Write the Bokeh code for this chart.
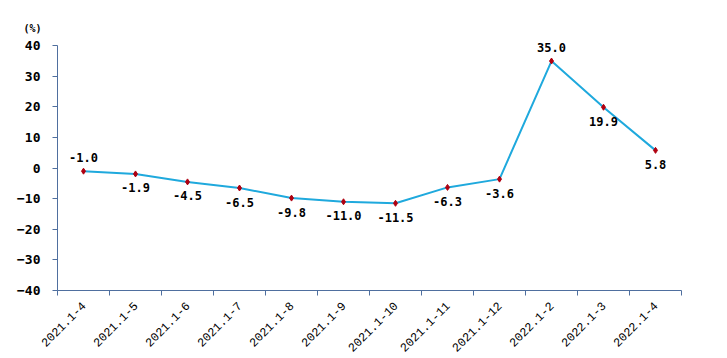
from bokeh.plotting import figure
from bokeh.models import FixedTicker, Range1d, LabelSet, ColumnDataSource
from bokeh.core.properties import value
from bokeh.embed import file_html
from bokeh.resources import INLINE

categories = ["2021.1-4", "2021.1-5", "2021.1-6", "2021.1-7", "2021.1-8", "2021.1-9",
              "2021.1-10", "2021.1-11", "2021.1-12", "2022.1-2", "2022.1-3", "2022.1-4"]
values = [-1.0, -1.9, -4.5, -6.5, -9.8, -11.0, -11.5, -6.3, -3.6, 35.0, 19.9, 5.8]
label_above = [True, False, False, False, False, False, False, False, False, True, False, False]
y_ticks = [-40, -30, -20, -10, 0, 10, 20, 30, 40]

xs = [i + 0.5 for i in range(len(categories))]
labels = ["%.1f" % v for v in values]
offsets = [14 if a else -14 for a in label_above]

src = ColumnDataSource(dict(x=xs, y=values, t=labels, off=offsets))

p = figure(width=720, height=358, output_backend="svg", toolbar_location=None,
           x_range=Range1d(0, len(categories)), y_range=Range1d(y_ticks[0], y_ticks[-1] + 4),
           min_border_left=57, min_border_right=39, min_border_top=33, min_border_bottom=68,
           title="(%)")
p.outline_line_color = None
p.xgrid.grid_line_color = None
p.ygrid.grid_line_color = None
p.background_fill_color = "white"

p.title.align = "left"
p.title.offset = -34
p.title.text_font = "DejaVu Sans Mono"
p.title.text_font_size = "10px"
p.title.text_font_style = "bold"
p.title.text_color = "black"
p.title.standoff = 0

axis_color = "#4F6F9F"
# x axis
p.xaxis.ticker = FixedTicker(ticks=xs, minor_ticks=list(range(len(categories) + 1)))
p.xaxis.major_label_overrides = {x: c for x, c in zip(xs, categories)}
p.xaxis.major_tick_out = 0
p.xaxis.major_tick_in = 0
p.xaxis.minor_tick_out = 5
p.xaxis.minor_tick_in = 0
p.xaxis.minor_tick_line_color = axis_color
p.xaxis.axis_line_color = axis_color
p.xaxis.major_label_orientation = 0.785398
p.xaxis.major_label_text_font = "Liberation Mono"
p.xaxis.major_label_text_font_size = "12px"
p.xaxis.major_label_text_color = "black"
p.xaxis.major_label_standoff = 8

# y axis
p.yaxis.ticker = FixedTicker(ticks=y_ticks)
p.yaxis.bounds = (y_ticks[0], y_ticks[-1])
p.yaxis.major_tick_out = 5
p.yaxis.major_tick_in = 0
p.yaxis.minor_tick_line_color = None
p.yaxis.major_tick_line_color = axis_color
p.yaxis.axis_line_color = axis_color
p.yaxis.major_label_text_font = "DejaVu Sans Mono"
p.yaxis.major_label_text_font_style = "bold"
p.yaxis.major_label_text_font_size = "13px"
p.yaxis.major_label_text_color = "black"
p.yaxis.major_label_standoff = 12

p.line("x", "y", source=src, line_color="#1FA9DD", line_width=2)
p.scatter("x", "y", source=src, marker="diamond", size=6, fill_color="#B00010",
          line_color="#B00010")
p.add_layout(LabelSet(x="x", y="y", text="t", source=src, y_offset="off",
                      text_align="center", text_baseline="middle",
                      text_font=value("DejaVu Sans Mono"), text_font_style="bold",
                      text_font_size="12px", text_color="black"))

open("out.html", "w").write(file_html(p, INLINE))
